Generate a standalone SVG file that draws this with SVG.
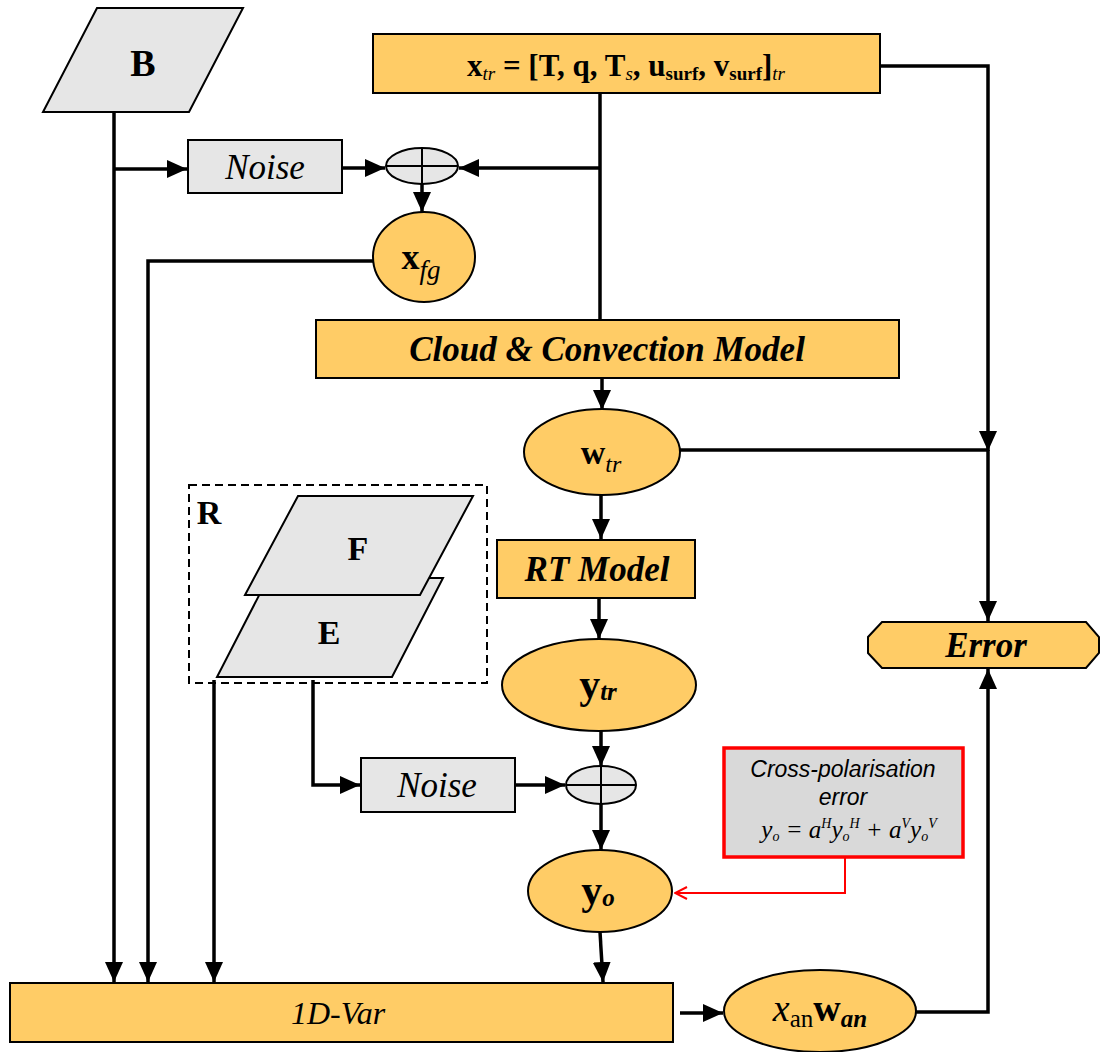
<svg xmlns="http://www.w3.org/2000/svg" width="1101" height="1052" viewBox="0 0 1101 1052">
<defs>
<style>
.o{fill:#FFCC66;stroke:#000;stroke-width:2}
.g{fill:#E6E6E6;stroke:#000;stroke-width:2}
.c{fill:none;stroke:#000;stroke-width:3.5}
.a{marker-end:url(#ah)}
.t{font-family:"Liberation Serif","Times New Roman",serif;text-anchor:middle}
.b{font-weight:bold}
.i{font-style:italic}
</style>
<marker id="ah" viewBox="0 0 20 18" refX="20" refY="9" markerWidth="20" markerHeight="18" markerUnits="userSpaceOnUse" orient="auto"><path d="M0,0 L20,9 L0,18 z" fill="#000"/></marker>
<marker id="ra" viewBox="0 0 14 14" refX="13" refY="7" markerWidth="14" markerHeight="14" markerUnits="userSpaceOnUse" orient="auto"><path d="M1,1 L13,7 L1,13" fill="none" stroke="#FF0000" stroke-width="2"/></marker>
</defs>
<rect width="1101" height="1052" fill="#fff"/>

<g id="connectors">
<path class="c a" d="M114,112 V982"/>
<path class="c a" d="M114,169 H187"/>
<path class="c a" d="M342,168 H385"/>
<path class="c" d="M600,93 V320"/>
<path class="c a" d="M600,168 H459"/>
<path class="c a" d="M422,184 V212"/>
<path class="c a" d="M373,261 H148 V982"/>
<path class="c a" d="M602,378 V410"/>
<path class="c a" d="M601,495 V539"/>
<path class="c a" d="M599,598 V639"/>
<path class="c a" d="M601,731 V766"/>
<path class="c a" d="M601,804 V850"/>
<path class="c a" d="M600,932 L603,982"/>
<path class="c a" d="M214,680 V982"/>
<path class="c a" d="M313,680 V785 H360"/>
<path class="c a" d="M515,785 H565"/>
<path class="c a" d="M880,66 H988 V451"/>
<path class="c a" d="M988,450 V621"/>
<path class="c" d="M680,450 H988"/>
<path class="c a" d="M680,1013 H723"/>
<path class="c a" d="M916,1012 H988 V669"/>
<path d="M845,857 V893 H675" fill="none" stroke="#FF0000" stroke-width="2" marker-end="url(#ra)"/>
</g>

<g id="B">
<polygon class="g" points="97,8 243,8 189,112 43,112"/>
<text class="t b" x="143" y="76" font-size="38">B</text>
</g>

<g id="xtr">
<rect class="o" x="373" y="34" width="507" height="59"/>
<text class="t b" x="626" y="76" font-size="31">x<tspan class="i" font-weight="normal" font-size="19" dy="4">tr</tspan><tspan dy="-4"> = [T, q, T</tspan><tspan class="i" font-weight="normal" font-size="19" dy="4">s</tspan><tspan dy="-4">, u</tspan><tspan font-size="19" dy="4">surf</tspan><tspan dy="-4">, v</tspan><tspan font-size="19" dy="4">surf</tspan><tspan dy="-4">]</tspan><tspan class="i" font-weight="normal" font-size="19" dy="4">tr</tspan></text>
</g>

<g id="noise1">
<rect class="g" x="188" y="140" width="154" height="53"/>
<text class="t i" x="265" y="179" font-size="35">Noise</text>
</g>

<g id="plus1">
<ellipse class="g" cx="422" cy="166" rx="36" ry="18"/>
<path d="M386,166 H458 M422,148 V184" stroke="#000" stroke-width="2"/>
</g>

<g id="xfg">
<ellipse class="o" cx="424" cy="257" rx="51" ry="45"/>
<text class="t" x="421" y="269" font-size="36"><tspan class="b">x</tspan><tspan class="i" font-size="27" dy="10">fg</tspan></text>
</g>

<g id="cloud">
<rect class="o" x="316" y="320" width="583" height="58"/>
<text class="t b i" x="607" y="361" font-size="35">Cloud &amp; Convection Model</text>
</g>

<g id="wtr">
<ellipse class="o" cx="602" cy="452" rx="78" ry="43"/>
<text class="t" x="601" y="464" font-size="34"><tspan class="b">w</tspan><tspan class="i" font-size="24" dy="8">tr</tspan></text>
</g>

<g id="R">
<rect x="189" y="485" width="298" height="198" fill="none" stroke="#000" stroke-width="2" stroke-dasharray="8,5"/>
<text class="t b" x="209" y="524" font-size="34">R</text>
</g>

<g id="E">
<polygon class="g" points="268,578 443,578 392,677 217,677"/>
<text class="t b" x="329" y="644" font-size="34">E</text>
</g>

<g id="F">
<polygon class="g" points="298,496 473,496 420,595 245,595"/>
<text class="t b" x="358" y="560" font-size="34">F</text>
</g>

<g id="rt">
<rect class="o" x="497" y="540" width="198" height="58"/>
<text class="t b i" x="597" y="581" font-size="35">RT Model</text>
</g>

<g id="ytr">
<ellipse class="o" cx="599" cy="685" rx="97" ry="46"/>
<text class="t b" x="598" y="698" font-size="42">y<tspan class="i" font-size="25" dy="2">tr</tspan></text>
</g>

<g id="noise2">
<rect class="g" x="361" y="758" width="154" height="54"/>
<text class="t i" x="437" y="797" font-size="35">Noise</text>
</g>

<g id="plus2">
<ellipse class="g" cx="601" cy="785" rx="35" ry="19"/>
<path d="M566,785 H636 M601,766 V804" stroke="#000" stroke-width="2"/>
</g>

<g id="yo">
<ellipse class="o" cx="600" cy="891" rx="72" ry="41"/>
<text class="t b" x="598" y="904" font-size="42">y<tspan class="i" font-size="25" dy="2">o</tspan></text>
</g>

<g id="crosspol">
<rect x="724" y="748" width="239" height="109" fill="#D9D9D9" stroke="#FF0000" stroke-width="3.5"/>
<text x="843" y="777" font-family="Liberation Sans,Arial,sans-serif" font-style="italic" font-size="23" text-anchor="middle">Cross-polarisation</text>
<text x="843" y="805" font-family="Liberation Sans,Arial,sans-serif" font-style="italic" font-size="23" text-anchor="middle">error</text>
<text class="t i" x="849" y="838" font-size="25">y<tspan font-size="14" dy="3">o</tspan><tspan dy="-3"> = a</tspan><tspan font-size="14" dy="-10">H</tspan><tspan dy="10">y</tspan><tspan font-size="14" dy="3">o</tspan><tspan font-size="14" dy="-13">H</tspan><tspan dy="10"> + a</tspan><tspan font-size="14" dy="-10">V</tspan><tspan dy="10">y</tspan><tspan font-size="14" dy="3">o</tspan><tspan font-size="14" dy="-13">V</tspan></text>
</g>

<g id="error">
<polygon class="o" points="882,622 1086,622 1099,637 1099,653 1086,668 882,668 868,653 868,637"/>
<text class="t b i" x="986" y="657" font-size="35">Error</text>
</g>

<g id="var">
<rect class="o" x="10" y="983" width="663" height="59"/>
<text class="t i" x="338" y="1024" font-size="32">1D-Var</text>
</g>

<g id="xan">
<ellipse class="o" cx="820" cy="1011" rx="96" ry="41"/>
<text class="t" x="820" y="1021" font-size="38"><tspan class="i">x</tspan><tspan font-size="25" dy="6">an</tspan><tspan class="b" dy="-6">w</tspan><tspan class="b i" font-size="25" dy="6">an</tspan></text>
</g>
</svg>
